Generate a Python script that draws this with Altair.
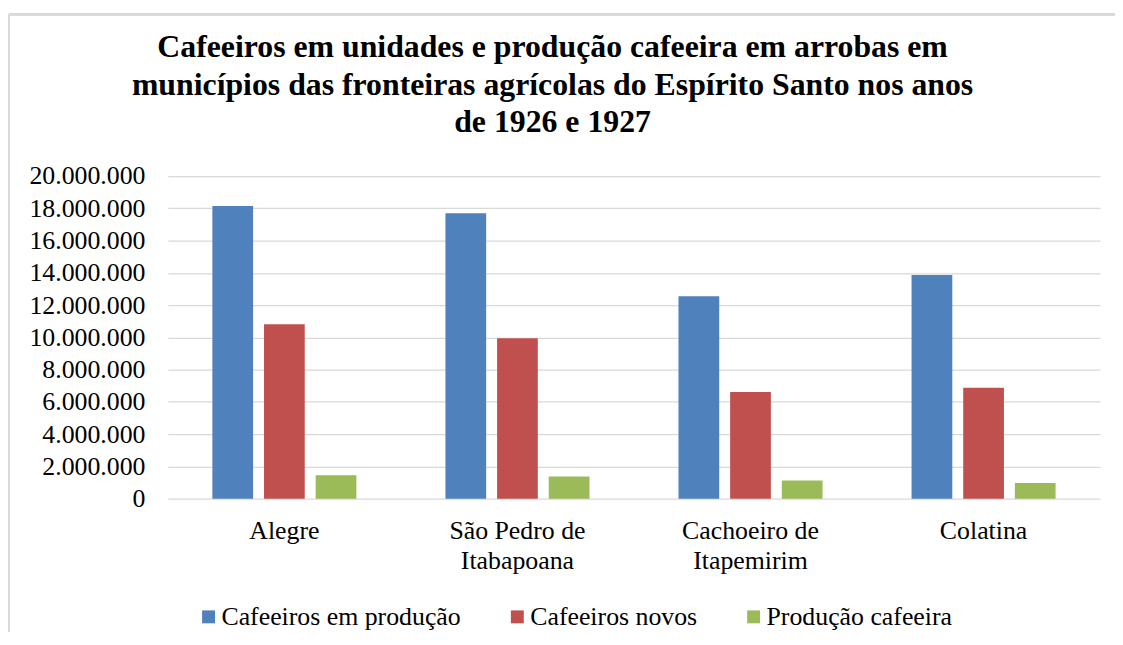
import altair as alt
import pandas as pd

categories = ["Alegre", "São Pedro de\nItabapoana", "Cachoeiro de\nItapemirim", "Colatina"]
series = ["Cafeeiros em produção", "Cafeeiros novos", "Produção cafeeira"]
em_producao = [18150000, 17700000, 12550000, 13870000]
novos = [10820000, 9950000, 6610000, 6880000]
producao = [1460000, 1380000, 1130000, 970000]
colors = ["#4F81BD", "#C0504D", "#9BBB59"]
y_ticks = [0, 2000000, 4000000, 6000000, 8000000, 10000000, 12000000, 14000000,
           16000000, 18000000, 20000000]
title_lines = [
    "Cafeeiros em unidades e produção cafeeira em arrobas em",
    "municípios das fronteiras agrícolas do Espírito Santo nos anos",
    "de 1926 e 1927",
]

rows = []
for i, c in enumerate(categories):
    for s, vals in zip(series, [em_producao, novos, producao]):
        rows.append({"Municipio": c, "Serie": s, "Valor": vals[i]})
df = pd.DataFrame(rows)

FONT = "Liberation Serif, Times New Roman, serif"
W, H = 939, 325

bars = alt.Chart(df).mark_bar().encode(
    x=alt.X("Municipio:N", sort=categories,
            scale=alt.Scale(paddingInner=0.382, paddingOuter=0.191),
            axis=alt.Axis(title=None, labelAngle=0, ticks=False, domain=False,
                          labelPadding=19, labelFontSize=26, labelFont=FONT,
                          labelColor="#000000", labelLineHeight=30,
                          labelExpr="split(datum.label, '\\n')", grid=False)),
    xOffset=alt.XOffset("Serie:N", sort=series,
                        scale=alt.Scale(paddingInner=0.2115, paddingOuter=0)),
    y=alt.Y("Valor:Q", scale=alt.Scale(domain=[0, 20000000], nice=False),
            axis=alt.Axis(title=None, values=y_ticks, ticks=False, domain=False,
                          labelPadding=23, labelFontSize=26, labelFont=FONT,
                          labelColor="#000000", gridColor="#d9d9d9", gridWidth=1.3,
                          labelExpr="join(split(format(datum.value, ','), ','), '.')")),
    color=alt.Color("Serie:N", sort=series,
                    scale=alt.Scale(domain=series, range=colors),
                    legend=alt.Legend(title=None, orient="none", legendX=28, legendY=431,
                                      direction="horizontal", columns=3,
                                      symbolType="square", symbolSize=169,
                                      symbolStrokeWidth=0, symbolOpacity=1,
                                      labelFontSize=26, labelFont=FONT,
                                      labelColor="#000000", labelOffset=0,
                                      columnPadding=43, padding=0, labelLimit=500)),
)

frame_top = alt.Chart(df).mark_rule(color="#d9d9d9", strokeWidth=2).encode(
    x=alt.value(-160), x2=alt.value(960), y=alt.value(-163))
frame_left = alt.Chart(df).mark_rule(color="#d9d9d9", strokeWidth=2).encode(
    x=alt.value(-160), y=alt.value(-163), y2=alt.value(460))

chart = alt.layer(frame_top, frame_left, bars).properties(
    width=W, height=H,
    autosize=alt.AutoSizeParams(type="none"),
    padding={"left": 161, "top": 167, "right": 15, "bottom": 132},
    title=alt.TitleParams(text=title_lines, font=FONT, fontSize=32, fontWeight="bold",
                          color="#000000", lineHeight=38, anchor="middle",
                          frame="group", dx=-82, offset=-127),
).configure(font=FONT).configure_view(stroke=None).configure_axis(
    labelFont=FONT).configure_legend(labelFont=FONT)

chart.save("out.html", embed_options={"renderer": "svg", "actions": False})
